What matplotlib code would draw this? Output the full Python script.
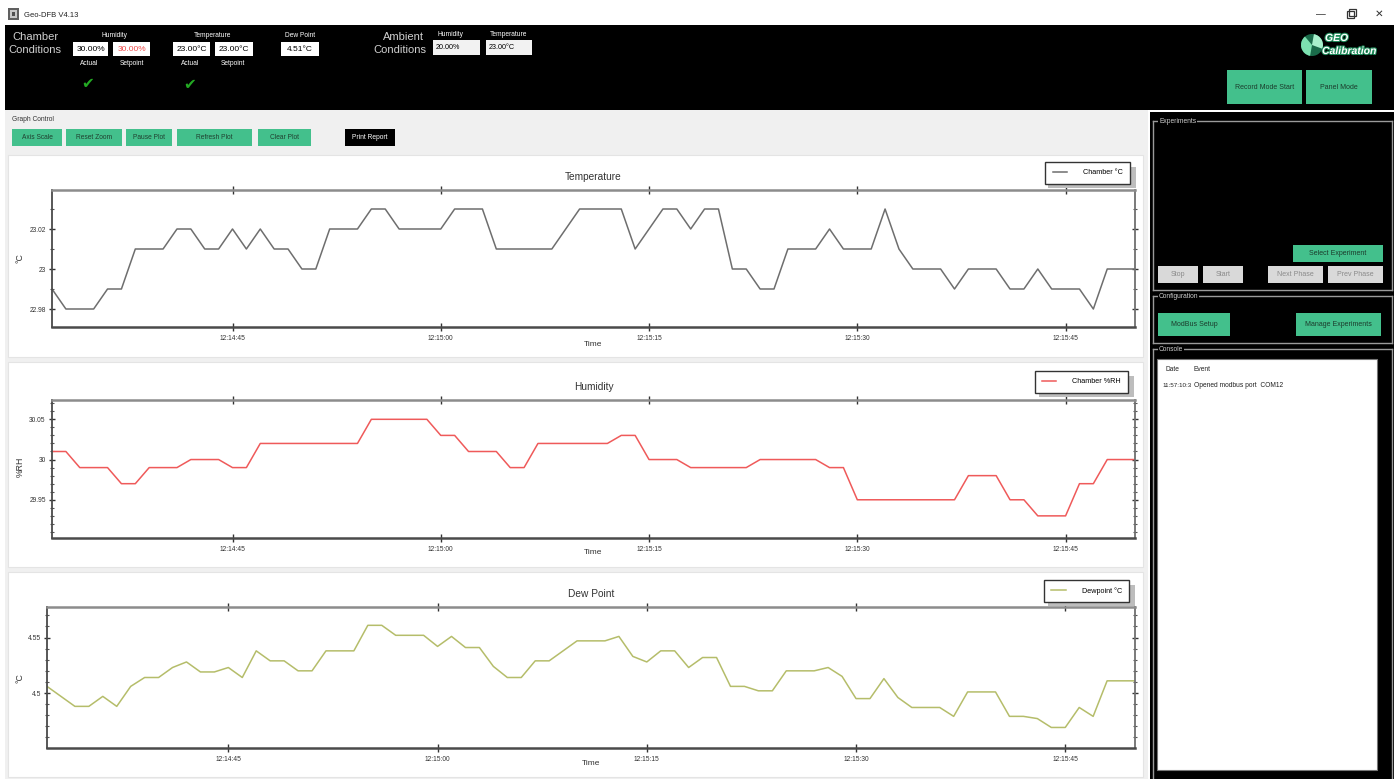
import matplotlib
matplotlib.use("Agg")
import matplotlib.pyplot as plt
import matplotlib.dates as mdates
from matplotlib.patches import Rectangle, Circle, Wedge
from matplotlib.ticker import MultipleLocator, FormatStrFormatter
import matplotlib.patheffects as pe
import pandas as pd

plt.rcParams['font.family'] = ['Liberation Sans', 'DejaVu Sans']

W, H = 1399, 779

# ---------------- data ----------------
start_time = "2024-01-01 12:14:32"
sample_period = "1s"

temperature = [22.99, 22.98, 22.98, 22.98, 22.99, 22.99, 23.01, 23.01, 23.01, 23.02,
               23.02, 23.01, 23.01, 23.02, 23.01, 23.02, 23.01, 23.01, 23.00, 23.00,
               23.02, 23.02, 23.02, 23.03, 23.03, 23.02, 23.02, 23.02, 23.02, 23.03,
               23.03, 23.03, 23.01, 23.01, 23.01, 23.01, 23.01, 23.02, 23.03, 23.03,
               23.03, 23.03, 23.01, 23.02, 23.03, 23.03, 23.02, 23.03, 23.03, 23.00,
               23.00, 22.99, 22.99, 23.01, 23.01, 23.01, 23.02, 23.01, 23.01, 23.01,
               23.03, 23.01, 23.00, 23.00, 23.00, 22.99, 23.00, 23.00, 23.00, 22.99,
               22.99, 23.00, 22.99, 22.99, 22.99, 22.98, 23.00, 23.00, 23.00]

humidity = [30.01, 30.01, 29.99, 29.99, 29.99, 29.97, 29.97, 29.99, 29.99, 29.99,
            30.00, 30.00, 30.00, 29.99, 29.99, 30.02, 30.02, 30.02, 30.02, 30.02,
            30.02, 30.02, 30.02, 30.05, 30.05, 30.05, 30.05, 30.05, 30.03, 30.03,
            30.01, 30.01, 30.01, 29.99, 29.99, 30.02, 30.02, 30.02, 30.02, 30.02,
            30.02, 30.03, 30.03, 30.00, 30.00, 30.00, 29.99, 29.99, 29.99, 29.99,
            29.99, 30.00, 30.00, 30.00, 30.00, 30.00, 29.99, 29.99, 29.95, 29.95,
            29.95, 29.95, 29.95, 29.95, 29.95, 29.95, 29.98, 29.98, 29.98, 29.95,
            29.95, 29.93, 29.93, 29.93, 29.97, 29.97, 30.00, 30.00, 30.00]

dewpoint = [4.506, 4.497, 4.488, 4.488, 4.497, 4.488, 4.506, 4.514, 4.514, 4.523,
            4.528, 4.519, 4.519, 4.523, 4.514, 4.538, 4.529, 4.529, 4.520, 4.520,
            4.538, 4.538, 4.538, 4.561, 4.561, 4.552, 4.552, 4.552, 4.542, 4.551,
            4.541, 4.541, 4.524, 4.514, 4.514, 4.529, 4.529, 4.538, 4.547, 4.547,
            4.547, 4.551, 4.533, 4.528, 4.538, 4.538, 4.523, 4.532, 4.532, 4.506,
            4.506, 4.502, 4.502, 4.520, 4.520, 4.520, 4.523, 4.515, 4.495, 4.495,
            4.513, 4.496, 4.487, 4.487, 4.487, 4.479, 4.501, 4.501, 4.501, 4.479,
            4.479, 4.477, 4.469, 4.469, 4.487, 4.479, 4.511, 4.511, 4.511]

chart_titles = ["Temperature", "Humidity", "Dew Point"]
y_labels = ["°C", "%RH", "°C"]
legend_labels = ["Chamber °C", "Chamber %RH", "Dewpoint °C"]
tick_seconds = [0, 15, 30, 45]

header_values = {"hum_actual": "30.00%", "hum_set": "30.00%",
                 "temp_actual": "23.00°C", "temp_set": "23.00°C",
                 "dew": "4.51°C", "amb_hum": "20.00%", "amb_temp": "23.00°C"}

graph_buttons = ["Axis Scale", "Reset Zoom", "Pause Plot", "Refresh Plot", "Clear Plot"]

# ---------------- figure ----------------
fig = plt.figure(figsize=(W / 100, H / 100), dpi=100, facecolor='white')
bg = fig.add_axes([0, 0, 1, 1])
bg.set_xlim(0, W)
bg.set_ylim(H, 0)
bg.axis('off')

GREEN = '#43c08c'


def rect(x0, y0, x1, y1, fc, ec='none', lw=0, z=1):
    bg.add_patch(Rectangle((x0, y0), x1 - x0, y1 - y0, facecolor=fc,
                           edgecolor=ec, linewidth=lw, zorder=z))


def txt(x, y, s, size=6, color='black', ha='left', va='center', z=3, **kw):
    bg.text(x, y, s, fontsize=size, color=color, ha=ha, va=va, zorder=z, **kw)


def button(x0, y0, x1, y1, label, fc=GREEN, tc='#1a3a2a', size=5, ec='none'):
    rect(x0, y0, x1, y1, fc, ec=ec, lw=0.8, z=2)
    txt((x0 + x1) / 2, (y0 + y1) / 2, label, size=size, color=tc, ha='center')


# title bar
rect(8, 8, 19, 20, '#606060', z=2)
rect(10, 10, 17, 18, '#c8c8c8', z=2)
rect(12, 12, 15, 16, '#505050', z=2)
txt(24, 15, "Geo-DFB V4.13", size=5.5, color='#222222')
txt(1321, 14, "—", size=7, color='#333333', ha='center')
rect(1347, 11, 1354, 18, 'none', ec='#333333', lw=0.9, z=3)
rect(1349, 9, 1356, 16, 'none', ec='#333333', lw=0.9, z=2)
txt(1379, 14, "✕", size=7.5, color='#333333', ha='center')

# header band
rect(5, 25, 1394, 110, 'black')
txt(35, 37, "Chamber", size=8, color='#d0d0d0', ha='center')
txt(35, 50, "Conditions", size=8, color='#d0d0d0', ha='center')

txt(114, 35, "Humidity", size=4.8, color='white', ha='center')
rect(73, 42, 108, 56, 'white', z=2)
txt(90.5, 49, header_values["hum_actual"], size=6, color='black', ha='center')
rect(113, 42, 150, 56, 'white', z=2)
txt(131.5, 49, header_values["hum_set"], size=6, color='#f04a4a', ha='center')
txt(89, 63, "Actual", size=4.8, color='white', ha='center')
txt(132, 63, "Setpoint", size=4.8, color='white', ha='center')
txt(88, 84, "✔", size=11, color='#23a923', ha='center')

txt(213, 35, "Temperature", size=4.8, color='white', ha='center')
rect(173, 42, 210, 56, 'white', z=2)
txt(191.5, 49, header_values["temp_actual"], size=6, color='black', ha='center')
rect(215, 42, 253, 56, 'white', z=2)
txt(234, 49, header_values["temp_set"], size=6, color='black', ha='center')
txt(190, 63, "Actual", size=4.8, color='white', ha='center')
txt(233, 63, "Setpoint", size=4.8, color='white', ha='center')
txt(190, 85, "✔", size=11, color='#23a923', ha='center')

txt(300, 35, "Dew Point", size=4.8, color='white', ha='center')
rect(281, 42, 319, 56, 'white', z=2)
txt(300, 49, header_values["dew"], size=6, color='black', ha='center')

txt(403, 37, "Ambient", size=8, color='#d0d0d0', ha='center')
txt(400, 50, "Conditions", size=8, color='#d0d0d0', ha='center')
txt(450, 34, "Humidity", size=4.8, color='white', ha='center')
rect(433, 40, 480, 55, '#f2f2f2', z=2)
txt(436, 47.5, header_values["amb_hum"], size=5.2, color='black')
txt(508, 34, "Temperature", size=4.8, color='white', ha='center')
rect(486, 40, 532, 55, '#f2f2f2', z=2)
txt(489, 47.5, header_values["amb_temp"], size=5.2, color='black')

# logo
bg.add_patch(Circle((1312, 45), 11, facecolor='#1a6b4a', edgecolor='none', zorder=3))
bg.add_patch(Wedge((1312, 45), 11, 100, 230, facecolor='#7de0b0', edgecolor='none', zorder=3))
bg.add_patch(Wedge((1312, 45), 11, 280, 20, facecolor='#a8f0cc', edgecolor='none', zorder=3))
logo_fx = [pe.withStroke(linewidth=1.5, foreground='#1f8a5a')]
txt(1325, 38, "GEO", size=7.5, color='white', weight='bold', style='italic', z=4, path_effects=logo_fx)
txt(1322, 51, "Calibration", size=7.5, color='white', weight='bold', style='italic', z=4, path_effects=logo_fx)

button(1227, 70, 1302, 104, "Record Mode Start", size=5, tc='#1c3b2c')
button(1306, 70, 1372, 104, "Panel Mode", size=5, tc='#1c3b2c')

# left gray work area
rect(5, 110, 1148, 779, '#f0f0f0')
txt(12, 119, "Graph Control", size=4.8, color='#333333')
btn_x = [(12, 62), (66, 122), (126, 172), (177, 252), (258, 311)]
for (x0, x1), lab in zip(btn_x, graph_buttons):
    button(x0, 129, x1, 146, lab, size=4.8, tc='#20402f')
button(345, 129, 395, 146, "Print Report", fc='black', tc='white', size=4.8)

panels = [(155, 357), (362, 567), (572, 777)]
for (y0, y1) in panels:
    rect(8, y0, 1143, y1, 'white', ec='#e4e4e4', lw=0.8, z=1.5)

# right panel
rect(1150, 112, 1394, 779, 'black')
gray_line = '#9a9a9a'
for (ytop, ybot, lab) in [(121, 290, "Experiments"), (296, 343, "Configuration"), (349, 779, "Console")]:
    bg.plot([1153, 1392], [ytop, ytop], color=gray_line, lw=1.0, zorder=2)
    bg.plot([1153, 1153], [ytop, ybot], color=gray_line, lw=1.0, zorder=2)
    bg.plot([1392, 1392], [ytop, ybot], color=gray_line, lw=1.0, zorder=2)
    if ybot < 779:
        bg.plot([1153, 1392], [ybot, ybot], color=gray_line, lw=1.0, zorder=2)
    txt(1159, ytop, lab, size=4.8, color='#cfcfcf', z=4,
        bbox=dict(facecolor='black', edgecolor='none', pad=0.6))

button(1293, 245, 1383, 262, "Select Experiment", size=5, tc='#1c3b2c')
for (x0, x1), lab in zip([(1158, 1198), (1203, 1243), (1268, 1323), (1328, 1383)],
                         ["Stop", "Start", "Next Phase", "Prev Phase"]):
    button(x0, 266, x1, 283, lab, fc='#d9d9d9', tc='#8a8a8a', size=5)
button(1158, 313, 1230, 336, "ModBus Setup", size=5, tc='#1c3b2c')
button(1296, 313, 1381, 336, "Manage Experiments", size=5, tc='#1c3b2c')

rect(1157, 359, 1377, 770, 'white', ec='#777777', lw=0.8, z=2)
txt(1165, 369, "Date", size=4.8, color='#222222')
txt(1193, 369, "Event", size=4.8, color='#222222')
txt(1162, 385, "11:57:10:3", size=4.5, color='#222222')
txt(1194, 385, "Opened modbus port  COM12", size=4.8, color='#222222')

# ---------------- charts ----------------
times = pd.date_range(start_time, periods=len(temperature), freq=sample_period)

charts = [
    dict(box=(52, 190, 1135, 327), values=temperature, color='#6e6e6e',
         ylim=(22.971, 23.0395), major=0.02, minor=0.01,
         legend=(1042, 162, 1130, 183), ylab_xy=(20, 258), xlab_y=341),
    dict(box=(52, 400, 1135, 538), values=humidity, color='#ef5a5a',
         ylim=(29.9025, 30.074), major=0.05, minor=0.01,
         legend=(1033, 371, 1128, 392), ylab_xy=(20, 467), xlab_y=549),
    dict(box=(47, 607, 1135, 748), values=dewpoint, color='#b5bd6a',
         ylim=(4.4505, 4.5775), major=0.05, minor=0.01,
         legend=(1042, 580, 1129, 601), ylab_xy=(20, 678), xlab_y=760),
]

for i, c in enumerate(charts):
    x0, y0, x1, y1 = c['box']
    ax = fig.add_axes([x0 / W, 1 - y1 / H, (x1 - x0) / W, (y1 - y0) / H])
    ax.set_facecolor('white')
    line, = ax.plot(times, c['values'], color=c['color'], lw=1.1)
    ax.set_xlim(times[0], times[-1])
    ax.set_ylim(*c['ylim'])
    ax.xaxis.set_major_locator(mdates.SecondLocator(bysecond=tick_seconds))
    ax.xaxis.set_major_formatter(mdates.DateFormatter('%H:%M:%S'))
    ax.yaxis.set_major_locator(MultipleLocator(c['major']))
    ax.yaxis.set_minor_locator(MultipleLocator(c['minor']))
    ax.yaxis.set_major_formatter(FormatStrFormatter('%g'))
    ax.tick_params(axis='x', which='major', direction='inout', length=6, width=1,
                   top=True, bottom=True, labelsize=4.8, colors='#333333', pad=3)
    ax.tick_params(axis='y', which='major', direction='inout', length=5, width=1,
                   left=True, right=True, labelsize=4.8, colors='#333333', pad=2)
    ax.tick_params(axis='y', which='minor', direction='inout', length=3, width=0.8,
                   left=True, right=True, colors='#555555')
    for side, col, lw in [('top', '#8c8c8c', 1.8), ('bottom', '#4a4a4a', 1.8),
                          ('left', '#4a4a4a', 1.3), ('right', '#707070', 1.3)]:
        ax.spines[side].set_color(col)
        ax.spines[side].set_linewidth(lw)
    ax.set_title(chart_titles[i], fontsize=7.3, color='#333333', pad=7)
    ax.set_xlabel("Time", fontsize=6, color='#333333')
    ax.xaxis.set_label_coords((x0 + x1) / 2, c['xlab_y'], transform=bg.transData)
    ax.xaxis.label.set_va('top')
    ax.set_ylabel(y_labels[i], fontsize=6.3, color='#333333')
    ax.yaxis.set_label_coords(c['ylab_xy'][0], c['ylab_xy'][1], transform=bg.transData)
    ax.yaxis.label.set_va('center')

    lx0, ly0, lx1, ly1 = c['legend']
    ax.add_patch(Rectangle((lx0 + 6, ly0 + 5), lx1 - lx0, ly1 - ly0,
                           transform=bg.transData, facecolor='#bdbdbd',
                           edgecolor='none', clip_on=False, zorder=4))
    leg = ax.legend([line], [legend_labels[i]], loc='upper right',
                    bbox_to_anchor=(lx1, ly0), bbox_transform=bg.transData,
                    frameon=True, fancybox=False, fontsize=5.2, handlelength=2.0,
                    handletextpad=2.2, borderpad=1.0, borderaxespad=0)
    leg.get_frame().set_edgecolor('#333333')
    leg.get_frame().set_linewidth(1.0)
    leg.get_frame().set_alpha(1)
    leg.set_zorder(5)

fig.savefig("out.png", dpi=100, facecolor='white')
